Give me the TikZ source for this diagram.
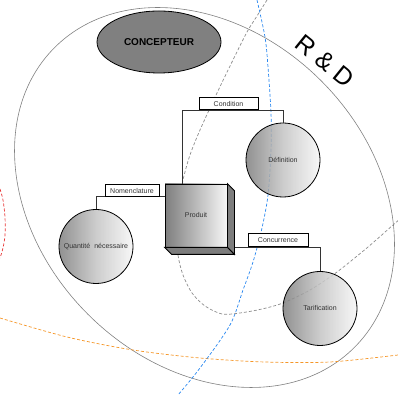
\documentclass[tikz,border=0pt]{standalone}
\usepackage{fontspec}
\setmainfont{Liberation Sans}
\usetikzlibrary{calc,shapes.geometric}
\definecolor{ellgray}{RGB}{128,128,128}
\definecolor{concfill}{RGB}{128,128,128}
\definecolor{dred}{RGB}{232,52,52}
\definecolor{dorange}{RGB}{245,150,40}
\definecolor{dblue}{RGB}{40,135,240}
\definecolor{dgray}{RGB}{140,140,140}
\definecolor{shadeL}{RGB}{126,126,126}
\definecolor{shadeM}{RGB}{196,196,196}
\definecolor{shadeR}{RGB}{246,246,246}
\definecolor{sidegray}{RGB}{125,125,125}
\begin{document}
\begin{tikzpicture}[x=1pt,y=1pt,
  lbl/.style={draw=black, fill=white, line width=0.7pt, font=\fontsize{7}{8}\selectfont, text=black!80, minimum height=12pt, inner sep=0pt, anchor=south},
  ball/.style={circle, draw=black, line width=0.8pt, left color=shadeL, right color=shadeR, middle color=shadeM, fill opacity=0.85, draw opacity=1, text opacity=1, minimum size=74pt, inner sep=0pt, font=\fontsize{7}{8}\selectfont, text=black!80},
  conn/.style={draw=black!80, line width=0.8pt},
  dcurve/.style={dash pattern=on 3pt off 2pt, line width=0.7pt}]
\useasboundingbox (0,0) rectangle (398,395);
% big R&D ellipse
\draw[ellgray, line width=0.6pt, rotate around={-45:(204.5,197.5)}] (204.5,197.5) ellipse [x radius=212, y radius=165];
% concepteur
\node (conc) [ellipse, draw=black, line width=0.8pt, fill=concfill, minimum width=124pt, minimum height=62pt, inner sep=0pt, font=\bfseries\fontsize{10}{12}\selectfont] at (159,353) {CONCEPTEUR};
% R & D
\node (rd) [rotate=-39, font=\fontsize{25}{30}\selectfont] at (325,334) {R \& D};
% dashed curves
\draw[dcurve, dred] plot[smooth] coordinates {(0,206) (3,195) (5,178) (5,160) (3,147) (0,137)};
\draw[dcurve, dorange] plot[smooth] coordinates {(0,77) (67,58) (133,45) (200,37) (265,33) (330,33) (398,40)};
\draw[dcurve, dblue] plot[smooth] coordinates {(257,395) (265,358) (268,328) (271,282) (271,245) (268,200) (262,167) (253,133) (243,105) (230,70) (200,27) (178,0)};
\draw[dcurve, dgray] plot[smooth] coordinates {(267,395) (257,379) (247,363) (232,333) (217,302) (200,265) (190,240) (183,215) (179,190) (177,165) (178,140) (183,120) (192,102) (205,89) (222,81) (240,82) (262,86) (283,92) (310,105) (337,123) (368,148) (393,170) (400,176)};
% circles
\node (defin) [ball] at (283,235) {Définition};
\node (quant) [ball] at (96,148.5) {Quantité\hspace{2pt} nécessaire};
\node (tarif) [ball] at (320,86.5) {Tarification};
% Produit front face
\node (prod) [draw=black, line width=0.8pt, left color=shadeL, right color=shadeR, minimum width=62pt, minimum height=63pt, inner sep=0pt, font=\fontsize{7}{8}\selectfont, text=black!80] at (196,179.5) {};
% connector points
\coordinate (ptop) at ($(prod.north west)+(18,0)$);
\coordinate (pleft) at ($(prod.north west)+(0,-13)$);
\coordinate (pright) at ($(prod.south east)+(7,0.3)$);
% connectors
\draw[conn] (ptop) -- (ptop |- 0,285) -| (defin.north);
\draw[conn] (pleft) -| (quant.north);
\draw[conn] (pright) -| (tarif.north);
% labels
\node (cond) [lbl, minimum width=59pt] at (228.5,285) {Condition};
\node (nomen) [lbl, minimum width=54pt] at (132,198) {Nomenclature};
\node (concu) [lbl, minimum width=60pt, minimum height=13pt] at (278,148.3) {Concurrence};
% Produit box side faces
\draw[line width=0.8pt, fill=sidegray] (prod.north east) -- ++(7,-7) -- ($(prod.south east)+(7,-7)$) -- (prod.south east) -- cycle;
\draw[line width=0.8pt, fill=sidegray] (prod.south west) -- (prod.south east) -- ++(7,-7) -- ($(prod.south west)+(7,-7)$) -- cycle;
\node[font=\fontsize{7}{8}\selectfont, text=black!80] at (prod.center) {Produit};
\end{tikzpicture}
\end{document}
